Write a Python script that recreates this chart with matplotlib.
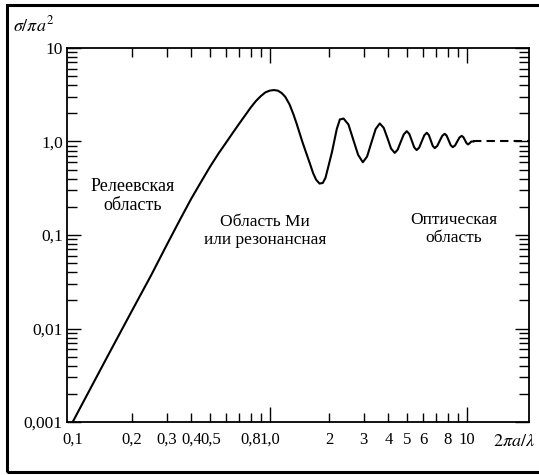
import numpy as np
import matplotlib
matplotlib.use("Agg")
import matplotlib.pyplot as plt
from matplotlib.ticker import FixedLocator, FixedFormatter, LogLocator, NullFormatter
from matplotlib.patches import Rectangle

plt.rcParams['font.family'] = ['Liberation Serif', 'DejaVu Serif']
plt.rcParams['mathtext.fontset'] = 'stix'

# электрический размер сферы 2πa/λ
ka = [0.1, 0.15, 0.2, 0.25, 0.3, 0.35, 0.4, 0.45, 0.5, 0.55, 0.6, 0.65, 0.7, 0.75,
      0.8, 0.85, 0.9, 0.95, 1.0, 1.05, 1.1, 1.15, 1.2, 1.26, 1.32, 1.37, 1.42, 1.47,
      1.53, 1.6, 1.66, 1.72, 1.79, 1.86, 1.92, 1.98, 2.07, 2.19, 2.27, 2.37,
      2.51, 2.65, 2.81, 2.97, 3.12, 3.28, 3.45, 3.62, 3.79, 3.96, 4.13, 4.31,
      4.46, 4.62, 4.79, 4.96, 5.11, 5.26, 5.41, 5.57, 5.74, 5.91, 6.09, 6.27,
      6.42, 6.57, 6.72, 6.88, 7.08, 7.29, 7.51, 7.73, 7.91, 8.10, 8.29, 8.49,
      8.72, 8.95, 9.19, 9.43, 9.62, 9.8, 9.98, 10.15, 10.35, 10.55, 10.8]
# нормированное сечение обратного рассеяния σ/πa²
sigma = [0.001, 0.005, 0.0155, 0.037, 0.078, 0.145, 0.245, 0.375, 0.545, 0.745, 0.97,
         1.24, 1.55, 1.9, 2.3, 2.7, 3.05, 3.35, 3.5, 3.55, 3.5, 3.3, 3.0, 2.5, 1.95,
         1.55, 1.22, 0.97, 0.76, 0.58, 0.46, 0.39, 0.355, 0.36, 0.41, 0.53, 0.77, 1.36,
         1.72, 1.76,
         1.52, 1.06, 0.72, 0.60, 0.69, 0.97, 1.36, 1.56, 1.40, 1.085, 0.84, 0.755,
         0.817, 0.987, 1.19, 1.29, 1.205, 1.022, 0.867, 0.81, 0.862, 1.002, 1.165, 1.24,
         1.173, 1.027, 0.898, 0.85, 0.895, 1.014, 1.149, 1.21, 1.153, 1.026, 0.913, 0.87,
         0.906, 1.0, 1.104, 1.15, 1.11, 1.03, 0.96, 0.93, 0.96, 1.0, 1.0]
# асимптота в оптической области
ka_opt = [10.8, 20.7]
sigma_opt = [1.0, 1.0]

x_major = [0.1, 1.0, 10.0]
x_major_labels = ['0,1', '1,0', '10']
x_minor = [0.2, 0.3, 0.4, 0.5, 0.6, 0.7, 0.8, 0.9, 2, 3, 4, 5, 6, 7, 8, 9]
x_minor_labels = ['0,2', '0,3', '0,4', '0,5', '', '', '0,8', '', '2', '3', '4', '5', '6', '', '8', '']
y_major = [0.001, 0.01, 0.1, 1.0, 10.0]
y_major_labels = ['0,001', '0,01', '0,1', '1,0', '10']

W, H = 539, 475
fig = plt.figure(figsize=(W / 100, H / 100), dpi=100)
ax = fig.add_axes([67 / W, 53 / H, 462 / W, 374 / H])

ax.plot(ka, sigma, color='black', lw=1.5)
ax.plot(ka_opt, sigma_opt, color='black', lw=1.5, ls=(0, (4, 2.5)))

ax.set_xscale('log')
ax.set_yscale('log')
ax.set_xlim(0.0936, 20.7)
ax.set_ylim(0.001, 10)

ax.xaxis.set_major_locator(FixedLocator(x_major))
ax.xaxis.set_major_formatter(FixedFormatter(x_major_labels))
ax.xaxis.set_minor_locator(FixedLocator(x_minor))
ax.xaxis.set_minor_formatter(FixedFormatter(x_minor_labels))
ax.yaxis.set_major_locator(FixedLocator(y_major))
ax.yaxis.set_major_formatter(FixedFormatter(y_major_labels))
ax.yaxis.set_minor_locator(LogLocator(base=10, subs=np.arange(2, 10), numticks=20))
ax.yaxis.set_minor_formatter(NullFormatter())

ax.tick_params(which='both', direction='in', top=True, right=True,
               labelsize=12, width=1.0, color='black')
ax.tick_params(axis='x', which='major', length=11, pad=7)
ax.tick_params(axis='x', which='minor', length=6.5, pad=7)
ax.tick_params(axis='y', which='major', length=10, pad=3, labelsize=12.5)
ax.tick_params(axis='y', which='minor', length=7)
for s in ax.spines.values():
    s.set_linewidth(1.3)

# у левого края по оси x штриха нет, только подпись 0,1
fig.canvas.draw()
first = ax.xaxis.get_major_ticks()[0]
first.tick1line.set_visible(False)
first.tick2line.set_visible(False)

txt = dict(ha='center', va='center', fontsize=12.5, linespacing=1.15,
           transform=ax.transAxes)
ax.text(0.141, 0.604, 'Релеевская\nобласть', fontsize=13, ha='center', va='center',
        linespacing=1.15, transform=ax.transAxes)
ax.text(0.4286, 0.511, 'Область Ми\nили резонансная', **txt)
ax.text(0.8377, 0.515, 'Оптическая\nобласть', **txt)

fig.text(13 / W, 1 - 25 / H, r'$\sigma/\pi a^2$', fontsize=13, ha='left', va='center')
fig.text(493 / W, 1 - 441 / H, r'$2\pi a/\lambda$', fontsize=13, ha='left', va='center')

# рамка вокруг рисунка
fig.add_artist(Rectangle((7 / W, 3 / H), 545 / W, 467 / H, transform=fig.transFigure,
                         fill=False, lw=2.2, edgecolor='black'))

fig.savefig('out.png', dpi=100)
